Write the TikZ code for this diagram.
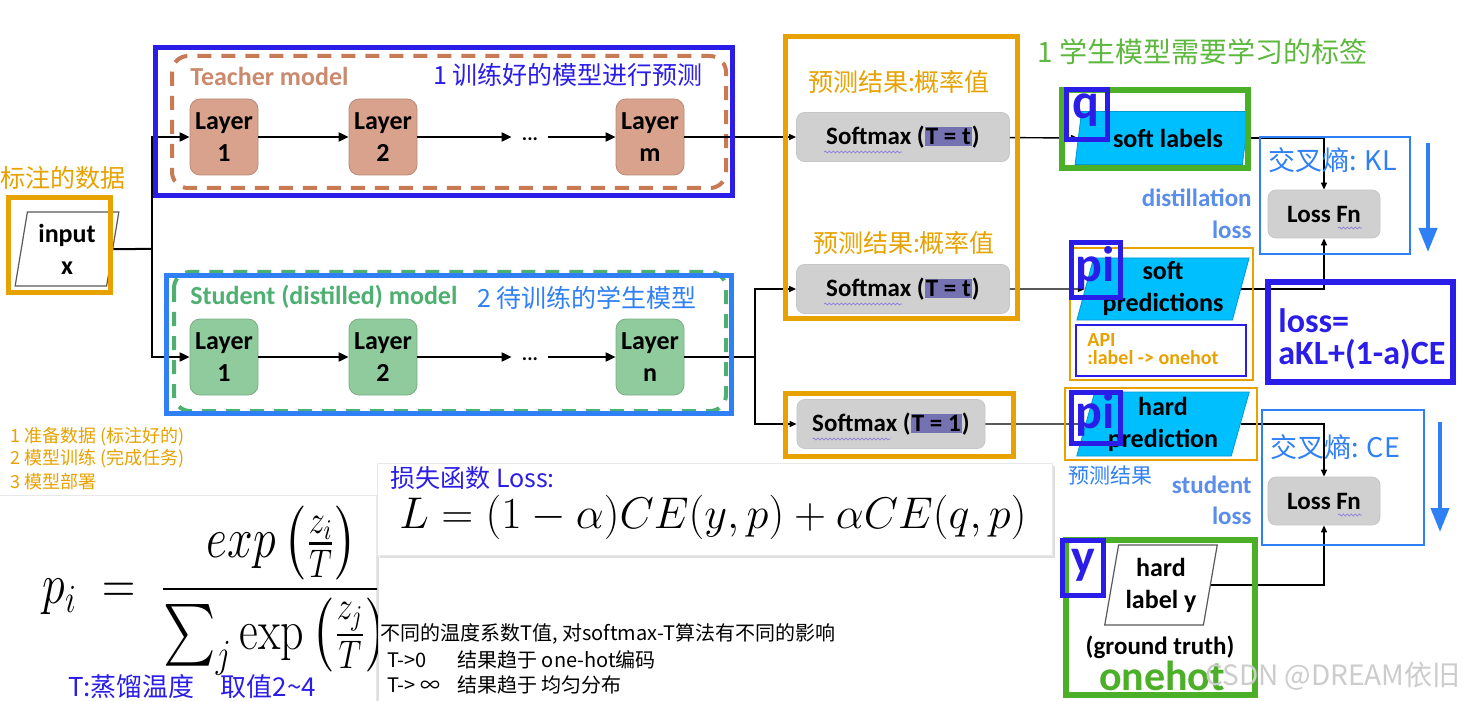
\RequirePackage{fix-cm}
\documentclass[tikz,border=0pt]{standalone}
\usepackage{fontspec}
\usepackage{amsmath}
\newfontfamily\cjk{Noto Sans CJK SC}
\newfontfamily\carl{Carlito}
\usetikzlibrary{shapes.geometric,arrows.meta,shadows,calc,decorations.pathmorphing}
\definecolor{dblue}{HTML}{2B1DE8}
\definecolor{lblue}{HTML}{2F80F5}
\definecolor{org}{HTML}{E8A200}
\definecolor{grn}{HTML}{4CAF28}
\definecolor{grntxt}{HTML}{5DB83E}
\definecolor{cyanf}{HTML}{00BFFF}
\definecolor{tfill}{HTML}{D9A28C}
\definecolor{tdash}{HTML}{C87A55}
\definecolor{ttext}{HTML}{C98A6E}
\definecolor{sfill}{HTML}{8FCB9D}
\definecolor{sdash}{HTML}{4DB071}
\definecolor{smgray}{HTML}{D0D0D0}
\definecolor{hlc}{HTML}{7472B0}
\definecolor{dlblue}{HTML}{5A8EEA}
\definecolor{spell}{HTML}{8C7FD8}
\newcommand\hlbox[1]{{\setlength\fboxsep{0.6pt}\colorbox{hlc}{#1}}}
\tikzset{
  bf/.style={font=\carl\bfseries\fontsize{#1}{#1}\selectfont},
  layerT/.style={rounded corners=5pt, fill=tfill, draw=tfill!85!black, line width=0.4pt,
    minimum width=34pt, minimum height=38pt, align=center, inner sep=0pt,
    font=\carl\bfseries\fontsize{13}{16}\selectfont},
  layerS/.style={layerT, fill=sfill, draw=sfill!85!black},
  smbox/.style={rounded corners=4pt, fill=smgray, draw=gray!45, line width=0.4pt,
    minimum width=106.5pt, minimum height=24.5pt, inner sep=0pt,
    font=\carl\bfseries\fontsize{12.5}{15}\selectfont},
  lossbox/.style={smbox, minimum width=56pt, minimum height=24pt},
  para/.style={trapezium, trapezium left angle=#1, trapezium right angle=180-#1,
    trapezium stretches=true, inner sep=0pt, align=center,
    font=\carl\bfseries\fontsize{13}{16}\selectfont},
  cpara/.style={para=#1, fill=cyanf, draw=cyanf!80!black, line width=0.4pt},
  wpara/.style={para=#1, fill=white, draw=gray!70!black, line width=0.6pt},
  arr/.style={-{Triangle[length=5pt,width=4.5pt]}, line width=1pt},
  arrs/.style={-{Triangle[length=3.5pt,width=3pt]}, line width=0.7pt},
  bigarr/.style={lblue, line width=2pt, -{Triangle[length=12pt,width=9pt]}},
  cjktxt/.style={font=\cjk\fontsize{#1}{#1}\selectfont, inner sep=0pt},
  panel/.style={fill=white, draw=gray!18, line width=0.5pt,
    drop shadow={shadow xshift=1pt, shadow yshift=-1.5pt, opacity=0.25}},
  wavy/.style={spell, line width=0.35pt, decorate,
    decoration={snake, amplitude=0.5pt, segment length=2pt}},
}
\begin{document}
\begin{tikzpicture}[x=0.5pt,y=-0.5pt]
\useasboundingbox (0,0) rectangle (1464,701);
\fill[white] (0,0) rectangle (1464,701);

% ---------- panels ----------
\node[panel, minimum width=188.5pt, minimum height=104pt, inner sep=0pt] (fpanel) at (188,599) {};
\node[panel, minimum width=337.5pt, minimum height=46pt, inner sep=0pt] (lpanel) at (715,509) {};

% ---------- teacher ----------
\draw[tdash, line width=2pt, dash pattern=on 7pt off 5pt, rounded corners=8pt] (172,56) rectangle (726,188);
\node[anchor=west, bf=13, text=ttext, inner sep=0pt] (tlab) at (190,76) {Teacher model};
\node[anchor=west, cjktxt=12.5, text=dblue] (tcn) at (433,75) {1 训练好的模型进行预测};
\node[layerT] (T1) at (224,137) {Layer\\1};
\node[layerT] (T2) at (383,137) {Layer\\2};
\node[inner sep=0pt, minimum width=18pt, bf=10] (td) at (530,137) {\raisebox{-4pt}{...}};
\node[layerT] (Tm) at (650,137) {Layer\\m};

% ---------- student ----------
\draw[sdash, line width=2pt, dash pattern=on 7pt off 5pt, rounded corners=8pt] (174,272) rectangle (726,411);
\node[anchor=west, bf=13, text=sdash, inner sep=0pt] (slab) at (190,297) {Student (distilled) model};
\node[anchor=west, cjktxt=12.5, text=lblue] (scn) at (477,298) {2 待训练的学生模型};
\node[layerS] (S1) at (224,357) {Layer\\1};
\node[layerS] (S2) at (383,357) {Layer\\2};
\node[inner sep=0pt, minimum width=18pt, bf=10] (sd) at (530,357) {\raisebox{-4pt}{...}};
\node[layerS] (Sn) at (650,357) {Layer\\n};

% ---------- input ----------
\node[anchor=west, cjktxt=12.5, text=org] (lab) at (0,178) {标注的数据};
\node[wpara=80, minimum width=52pt, minimum height=37pt] (inp) at (67,249) {input\\x};
\coordinate (split1) at (152,249);
\draw[line width=1pt] (inp.east) -- (split1);
\draw[arr] (split1) |- (T1.west);
\draw[arr] (split1) |- (S1.west);
\draw[arr] (T1) -- (T2);
\draw[arr] (T2) -- (td);
\draw[arr] (td) -- (Tm);
\draw[arr] (S1) -- (S2);
\draw[arr] (S2) -- (sd);
\draw[arr] (sd) -- (Sn);

% ---------- softmax ----------
\node[smbox] (SM1) at (903,137) {Softmax (\hlbox{T = t})};
\node[smbox] (SM2) at (903,289) {Softmax (\hlbox{T = t})};
\node[smbox, minimum width=94pt] (SM3) at (891,424) {Softmax (\hlbox{T = 1})};
\draw[wavy] ($(SM1.west)+(28,15)$) -- ($(SM1.west)+(106,15)$);
\draw[wavy] ($(SM2.west)+(28,15)$) -- ($(SM2.west)+(106,15)$);
\draw[wavy] ($(SM3.west)+(16,15)$) -- ($(SM3.west)+(94,15)$);
\node[cjktxt=12.5, text=org] (p1) at (899,82) {预测结果:概率值};
\node[cjktxt=12.5, text=org] (p2) at (904,243) {预测结果:概率值};
\coordinate (split2) at (755,357);
\draw[arrs] (Tm) -- (SM1);
\draw[line width=0.8pt] (Sn.east) -- (split2);
\draw[arrs] (split2) |- (SM2.west);
\draw[arrs] (split2) |- (SM3.west);

% ---------- right column ----------
\node[cpara=75, minimum width=87.5pt, minimum height=26.5pt] (SL) at (1162,138) {\hspace{6pt}soft labels};
\node[cpara=75, minimum width=86.5pt, minimum height=31pt] (SP) at (1163,289) {soft\\predictions};
\node[cpara=75, minimum width=86.5pt, minimum height=32pt] (HP) at (1163,424) {hard\\prediction};
\node[wpara=78, minimum width=56.5pt, minimum height=40pt] (HL) at (1161,585) {hard\\label y};
\node[lossbox] (LF1) at (1324,214) {Loss Fn};
\node[lossbox] (LF2) at (1324,501) {Loss Fn};
\draw[wavy] ($(LF1.center)+(14,14)$) -- ($(LF1.center)+(38,14)$);
\draw[wavy] ($(LF2.center)+(14,14)$) -- ($(LF2.center)+(38,14)$);

\draw[arrs] (SM1) -- (SL.west);
\draw[arrs] (SM2) -- (SP.west);
\draw[arrs] (SM3) -- (HP.west);
\draw[arrs] (SL.east) -| (LF1.north);
\draw[arrs] (SP.east) -| (LF1.south);
\draw[arrs] (HP.east) -| (LF2.north);
\draw[arrs] (HL.east) -| (LF2.south);

\node[cjktxt=14, text=grntxt, anchor=west] (gt) at (1037,52) {1 学生模型需要学习的标签};
\node[anchor=east, bf=12.5, text=dlblue, inner sep=0pt] (dl1) at (1252,198) {distillation};
\node[anchor=east, bf=12.5, text=dlblue, inner sep=0pt] (dl2) at (1252,230) {loss};
\node[anchor=east, bf=12.5, text=dlblue, inner sep=0pt] (sl1) at (1252,485) {student};
\node[anchor=east, bf=12.5, text=dlblue, inner sep=0pt] (sl2) at (1252,516) {loss};
\node[anchor=west, cjktxt=13.5, text=lblue] (kl) at (1268,160) {交叉熵: KL};
\node[anchor=west, cjktxt=13.5, text=lblue] (ce) at (1270,447) {交叉熵: CE};
\node[anchor=west, cjktxt=10.5, text=lblue] (yc) at (1068,476) {预测结果};
\node[bf=12.5, inner sep=0pt] (gtr) at (1160,647) {(ground truth)};
\node[bf=21, text=grn, inner sep=0pt] (oh) at (1162,676) {onehot};
\node[anchor=west, bf=10, text=org, inner sep=0pt, align=left] (api) at (1087,349) {API\\[-1pt]:label -> onehot};
\node[anchor=west, bf=17, text=dblue, inner sep=0pt, align=left] (lossf) at (1278,339) {loss=\\[-1pt]aKL+(1-a)CE};

% frames
\draw[dblue, line width=2.5pt] (155,48) rectangle (732,196);
\draw[lblue, line width=2.5pt] (166,276) rectangle (731,413);
\draw[org, line width=2.5pt] (8,198) rectangle (110,293);
\draw[org, line width=2.5pt] (785,37) rectangle (1017,318);
\draw[org, line width=2.5pt] (785,393) rectangle (1013,456);
\draw[org, line width=1.3pt] (1070,248) rectangle (1253,380);
\draw[org, line width=1.3pt] (1065,388) rectangle (1257,460);
\draw[grn, line width=3pt] (1062,90) rectangle (1248,168);
\draw[grn, line width=3pt] (1066,540) rectangle (1255,695);
\draw[lblue, line width=1.3pt] (1260,137) rectangle (1410,254);
\draw[lblue, line width=1.3pt] (1262,410) rectangle (1424,545);
\draw[dblue, line width=1.3pt] (1076,325) rectangle (1246,376);
\draw[dblue, line width=3pt] (1268,282) rectangle (1453,382);
\draw[dblue, line width=2.5pt] (1066,90) rectangle (1107,140);
\draw[dblue, line width=2.5pt] (1071,243) rectangle (1120,298);
\draw[dblue, line width=2.5pt] (1071,392) rectangle (1120,443);
\draw[dblue, line width=2.5pt] (1062,540) rectangle (1103,595);
\node[bf=25, text=dblue, inner sep=0pt] (qq) at (1086,110) {q};
\node[bf=25, text=dblue, inner sep=0pt] (pi1) at (1095,268) {pi};
\node[bf=25, text=dblue, inner sep=0pt] (pi2) at (1095,415) {pi};
\node[bf=25, text=dblue, inner sep=0pt] (yy) at (1083,565) {y};

% blue arrows
\coordinate (a1s) at (1428,143); \coordinate (a1e) at (1428,252);
\coordinate (a2s) at (1440,422); \coordinate (a2e) at (1440,532);
\draw[bigarr] (a1s) -- (a1e);
\draw[bigarr] (a2s) -- (a2e);

% ---------- bottom left ----------
\node[anchor=west, cjktxt=9, text=org] (st1) at (10,437) {1 准备数据 (标注好的)};
\node[anchor=west, cjktxt=9, text=org] (st2) at (10,459) {2 模型训练 (完成任务)};
\node[anchor=west, cjktxt=9, text=org] (st3) at (10,482) {3 模型部署};
\begin{scope}
\clip (0,495) rectangle (377,701);
\node[anchor=west, inner sep=0pt] (pform) at (42,591) {\scalebox{1}[1.24]{\fontsize{23}{27}\selectfont$\displaystyle p_i \;=\; \frac{\;exp\left(\frac{z_i}{T}\right)}{\sum_j \exp\left(\frac{z_j}{T}\right)}$}};
\end{scope}
\node[anchor=west, cjktxt=13, text=dblue] (tt) at (68,687) {T:蒸馏温度\quad 取值2\textasciitilde4};

\node[anchor=west, cjktxt=12.5, text=dblue] (lt) at (390,478) {损失函数 Loss:};
\node[inner sep=0pt] (lform) at (713,517) {\fontsize{22.2}{26}\selectfont$L=(1-\alpha)CE(y,p)+\alpha CE(q,p)$};

\node[anchor=west, cjktxt=10] (n1) at (380,634) {不同的温度系数T值, 对softmax-T算法有不同的影响};
\node[anchor=west, cjktxt=10] (n2) at (387,660) {\makebox[35pt][l]{T->0}结果趋于 one-hot编码};
\node[anchor=west, cjktxt=10] (n3) at (387,685) {\makebox[35pt][l]{T-> ∞}结果趋于 均匀分布};

\node[cjktxt=14, text=gray!40] (wm) at (1333,676) {CSDN @DREAM依旧};
\end{tikzpicture}
\end{document}
